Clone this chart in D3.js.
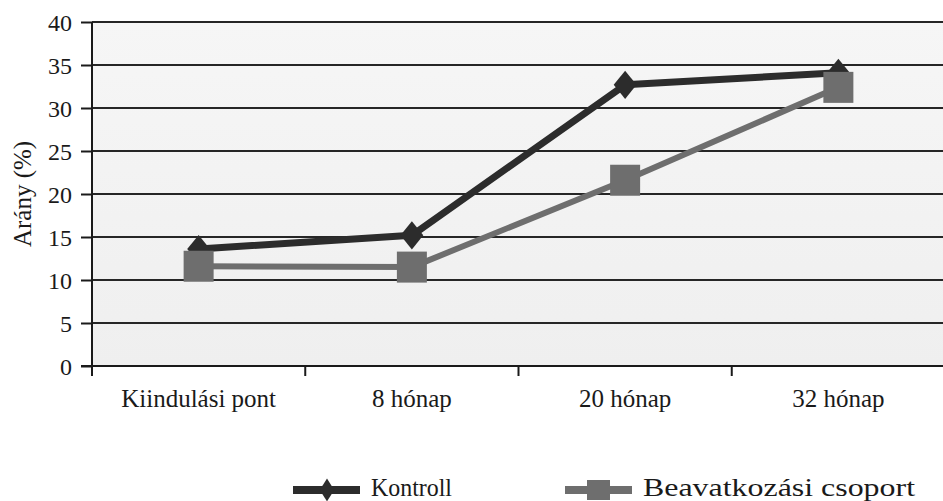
<!DOCTYPE html>
<html>
<head>
<meta charset="utf-8">
<script src="https://cdn.jsdelivr.net/npm/d3@7/dist/d3.min.js"></script>
<style>
  html, body { margin: 0; padding: 0; background: #fff; }
  svg { display: block; }
  svg text { font-family: "Liberation Serif", "DejaVu Serif", serif !important; }
</style>
</head>
<body>
<svg id="chart" width="943" height="501"></svg>
<script>
// Categories and series values (percent)
const categories = ["Kiindulási pont", "8 hónap", "20 hónap", "32 hónap"];
const kontroll = [13.6, 15.2, 32.7, 34.1];
const beavatkozas = [11.6, 11.5, 21.6, 32.4];
const yTicks = [0, 5, 10, 15, 20, 25, 30, 35, 40];
const seriesNames = ["Kontroll", "Beavatkozási csoport"];

const ink = "#1a1a1a";

const svg = d3.select("#chart");
const plotLeft = 92, plotRight = 945, plotTop = 22, plotBottom = 366;

const x = d3.scaleBand().domain(categories).range([plotLeft, plotRight]);
const y = d3.scaleLinear().domain([0, 40]).range([plotBottom, plotTop]);

// plot area background
const grad = svg.append("defs").append("linearGradient")
  .attr("id", "bg").attr("x1", 0).attr("y1", 0).attr("x2", 0).attr("y2", 1);
grad.append("stop").attr("offset", "0%").attr("stop-color", "#f6f6f6");
grad.append("stop").attr("offset", "100%").attr("stop-color", "#efefef");
svg.append("rect")
  .attr("x", plotLeft).attr("y", plotTop)
  .attr("width", plotRight - plotLeft).attr("height", plotBottom - plotTop)
  .attr("fill", "url(#bg)");

// horizontal gridlines
svg.append("g").selectAll("line").data(yTicks.filter(d => d > 0)).join("line")
  .attr("x1", plotLeft).attr("x2", 943)
  .attr("y1", d => y(d)).attr("y2", d => y(d))
  .attr("stroke", "#262626").attr("stroke-width", 2);

// y axis
const yAxis = svg.append("g").attr("transform", `translate(${plotLeft},0)`)
  .call(d3.axisLeft(y).tickValues(yTicks).tickSize(11).tickPadding(9))
  .attr("font-size", 24);
yAxis.select(".domain").attr("stroke", ink).attr("stroke-width", 2)
  .attr("d", `M0,${plotTop}V${plotBottom + 10}`);
yAxis.selectAll(".tick line").attr("stroke", ink).attr("stroke-width", 2);
yAxis.selectAll(".tick text").attr("fill", ink).attr("dy", "0.34em");

// x axis
const xAxis = svg.append("g").attr("transform", `translate(0,${plotBottom})`)
  .call(d3.axisBottom(x).tickSize(0).tickPadding(23))
  .attr("font-size", 25);
xAxis.select(".domain").attr("stroke", ink).attr("stroke-width", 2)
  .attr("d", `M${plotLeft - 11},0H943`);
xAxis.selectAll(".tick text").attr("fill", ink);
// boundary ticks between categories
const bounds = categories.map(c => x(c));
svg.append("g").selectAll("line").data(bounds).join("line")
  .attr("x1", d => d).attr("x2", d => d)
  .attr("y1", plotBottom).attr("y2", plotBottom + 10)
  .attr("stroke", ink).attr("stroke-width", 2);

// axis title
svg.append("text")
  .attr("transform", `translate(31,${(plotTop + plotBottom) / 2}) rotate(-90)`)
  .attr("text-anchor", "middle")
  .attr("font-size", 25).attr("fill", ink)
  .text("Arány (%)");

const cx = c => x(c) + x.bandwidth() / 2;
const line = d3.line().x(d => cx(d.c)).y(d => y(d.v));

const kData = categories.map((c, i) => ({ c, v: kontroll[i] }));
const bData = categories.map((c, i) => ({ c, v: beavatkozas[i] }));

const kColor = "#2c2c2c", bColor = "#6e6e6e";
const diamond = d3.symbol().type(d3.symbolDiamond).size(230);

// Kontroll series
svg.append("path").datum(kData).attr("d", line)
  .attr("fill", "none").attr("stroke", kColor).attr("stroke-width", 7)
  .attr("stroke-linejoin", "round");
svg.append("g").selectAll("path").data(kData).join("path")
  .attr("transform", d => `translate(${cx(d.c)},${y(d.v)}) scale(1.4,1)`)
  .attr("d", diamond).attr("fill", kColor);

// Beavatkozási csoport series
svg.append("path").datum(bData).attr("d", line)
  .attr("fill", "none").attr("stroke", bColor).attr("stroke-width", 6)
  .attr("stroke-linejoin", "round");
svg.append("g").selectAll("rect").data(bData).join("rect")
  .attr("x", d => cx(d.c) - 15).attr("y", d => y(d.v) - 15.5)
  .attr("width", 30).attr("height", 31).attr("fill", bColor);

// legend
const legendY = 490;
const leg = [
  { name: seriesNames[0], x0: 293, color: kColor, type: "diamond", w: 81 },
  { name: seriesNames[1], x0: 565, color: bColor, type: "square", w: 272 }
];
leg.forEach(l => {
  svg.append("line").attr("x1", l.x0).attr("x2", l.x0 + 67)
    .attr("y1", legendY).attr("y2", legendY)
    .attr("stroke", l.color).attr("stroke-width", 8);
  if (l.type === "diamond") {
    svg.append("path").attr("transform", `translate(${l.x0 + 34},${legendY}) scale(1.1,1)`)
      .attr("d", d3.symbol().type(d3.symbolDiamond).size(150)).attr("fill", l.color);
  } else {
    svg.append("rect").attr("x", l.x0 + 22).attr("y", legendY - 10)
      .attr("width", 23).attr("height", 20).attr("fill", l.color);
  }
  svg.append("text").attr("x", l.x0 + 78).attr("y", legendY + 6)
    .attr("font-size", 25).attr("fill", ink)
    .attr("textLength", l.w).attr("lengthAdjust", "spacingAndGlyphs")
    .text(l.name);
});
</script>
</body>
</html>
